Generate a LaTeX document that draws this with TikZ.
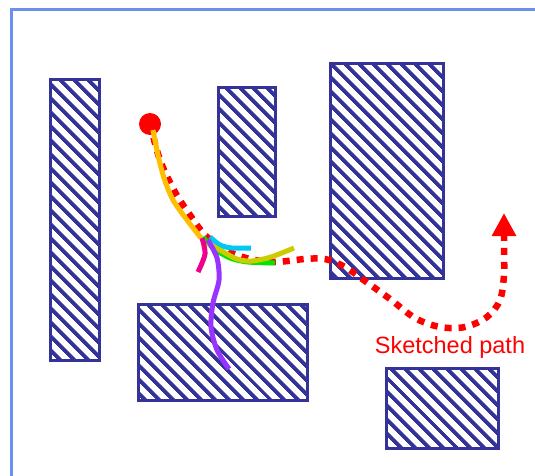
\documentclass[tikz,border=0pt]{standalone}
\usepackage{fontspec}
\setmainfont{Liberation Sans}
\usepackage{tikz}
\usetikzlibrary{arrows.meta, patterns.meta}
\definecolor{obs_navy}{RGB}{51, 51, 153}
\definecolor{frame_blue}{RGB}{111, 143, 240}
\definecolor{trail_gold}{RGB}{255, 190, 0}
\definecolor{trail_olive}{RGB}{204, 204, 0}
\definecolor{trail_cyan}{RGB}{0, 200, 240}
\definecolor{trail_green}{RGB}{0, 230, 0}
\definecolor{trail_purple}{RGB}{153, 51, 255}

\begin{document}
\begin{tikzpicture}[x=1pt, y=-1pt, >=Stealth,
      obs/.style={draw=obs_navy, line width=3pt, inner sep=0pt, outer sep=0pt,
        pattern={Lines[angle=-45, distance=10.5pt, line width=4.2pt]}, pattern color=obs_navy},
      trail/.style={line width=5pt, line cap=butt},
      sketch/.style={draw=red, line width=6.5pt, dash pattern=on 7pt off 7pt},
      lbl/.style={font=\fontsize{23.5}{26}\selectfont, text=red, inner sep=0pt}]
    \useasboundingbox (0,0) rectangle (535,476);
    \draw[frame_blue, line width=3pt] (535,9.5) -| (11.5,476);
    % obstacles
    \node[obs, minimum width=49pt, minimum height=280pt]  (wall)  at (74.5,220) {};
    \node[obs, minimum width=57pt, minimum height=128pt]  (post)  at (246.5,152) {};
    \node[obs, minimum width=113pt, minimum height=214pt] (block) at (386.5,171) {};
    \node[obs, minimum width=169pt, minimum height=96pt]  (slab)  at (222.5,352) {};
    \node[obs, minimum width=112pt, minimum height=80pt]  (box)   at (442,408) {};
    % start and goal
    \node[circle, fill=red, minimum size=22pt, inner sep=0pt] (start) at (150,124) {};
    \coordinate (goal) at (504,213);
    \draw[sketch, -{Triangle[width=23pt, length=23pt]}] plot[smooth, tension=0.55] coordinates {
      (start.center) (160,160) (175,192) (190,215) (205,235) (225,250) (250,259) (275,262)
      (305,259) (325,259) (345,267) (365,281) (390,299) (415,318) (440,327) (465,327)
      (487,317) (500,300) (504,275) (504,250) (goal)};
    % candidate trails
    \draw[trail, trail_gold] plot[smooth] coordinates {(153,130) (158,155) (164,178) (173,200) (187,220) (201,238)};
    \draw[trail, trail_cyan] plot[smooth] coordinates {(210,237) (220,245) (232,248) (251,248)};
    \draw[trail, trail_green] plot[smooth] coordinates {(203,237) (213,248) (230,258) (248,262) (275,263)};
    \draw[trail, trail_olive] plot[smooth] coordinates {(207,243) (218,249) (237,259) (252,261) (271,257) (294,248)};
    \draw[trail, magenta] plot[smooth] coordinates {(202,238) (205,254) (198,272)};
    \draw[trail, trail_purple] plot[smooth] coordinates {(208,240) (217,258) (219,280) (213,303) (211,327) (217,350) (229,369)};
    \node[lbl] (cap) at (450,347) {Sketched path};
\end{tikzpicture}
\end{document}
